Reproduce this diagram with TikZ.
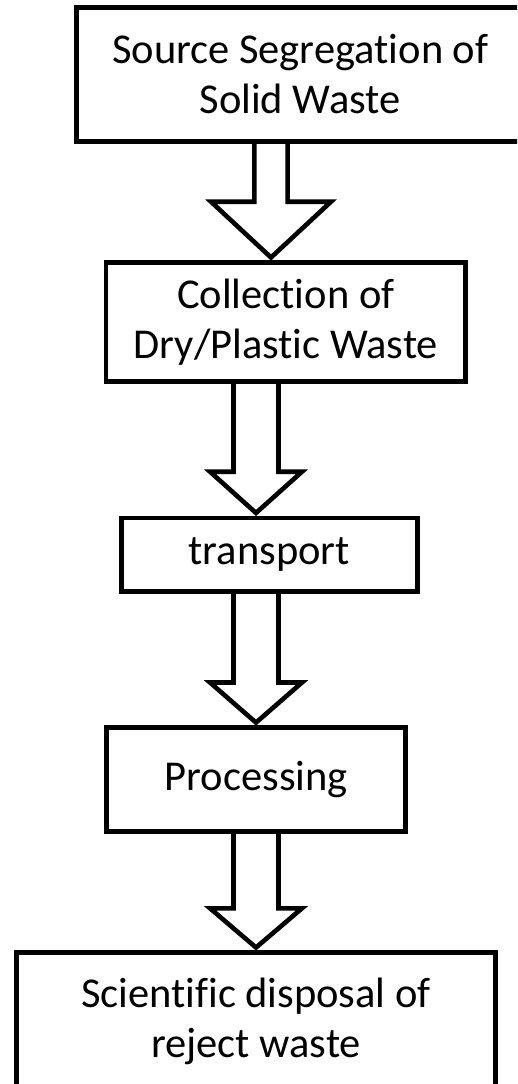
\documentclass[tikz,border=0pt]{standalone}
\usepackage{fontspec}
\setmainfont{Carlito}[Ligatures={NoCommon,NoRequired,NoContextual}]
\usetikzlibrary{calc}
\tikzset{
  box/.style={draw=black, line width=4.6pt, rectangle, inner sep=0pt, outer sep=0pt,
    align=center, font=\fontsize{42.5}{50}\selectfont, fill=white},
  barrow/.style={draw=black, line width=4.6pt, line join=miter}
}
\newcommand\blockarrow[6]{%
  \draw[barrow] let \p1=(#1.south), \p2=(#2.north) in
   ({(#3-#4)*1pt},\y1) -- ({(#3-#4)*1pt},{-#6pt}) -- ({(#3-#5)*1pt},{-#6pt})
   -- ({#3pt},{\y2+5pt}) -- ({(#3+#5)*1pt},{-#6pt}) -- ({(#3+#4)*1pt},{-#6pt})
   -- ({(#3+#4)*1pt},\y1);
}
\begin{document}
\begin{tikzpicture}[x=1pt,y=-1pt]
\useasboundingbox (0,0) rectangle (517,1084);
\clip (0,0) rectangle (517,1084);
\fill[white] (0,0) rectangle (517,1084);
\node[box, minimum width=447.5pt, minimum height=134pt] (b1) at (300.2,74.5)
  {Source Segregation of\\Solid Waste};
\node[box, minimum width=359.5pt, minimum height=119pt] (b2) at (285.8,322)
  {Collection of\\Dry/Plastic Waste};
\node[box, minimum width=296pt, minimum height=73.5pt] (b3) at (269.2,554.7)
  {transport};
\node[box, minimum width=299pt, minimum height=104pt] (b4) at (256.2,779.6)
  {Processing};
\node[box, minimum width=479.5pt, minimum height=220pt, anchor=north] (b5) at (256,952.5)
  {};
\node[font=\fontsize{42.5}{50}\selectfont, align=center, anchor=north] (t5) at (256,974)
  {Scientific disposal of\\reject waste};
\blockarrow{b1}{b2}{271}{16.6}{60}{201.7}
\blockarrow{b2}{b3}{256}{22.5}{46}{471.7}
\blockarrow{b3}{b4}{256}{22.5}{46}{682.5}
\blockarrow{b4}{b5}{256}{22.5}{46}{908.3}
\end{tikzpicture}
\end{document}
